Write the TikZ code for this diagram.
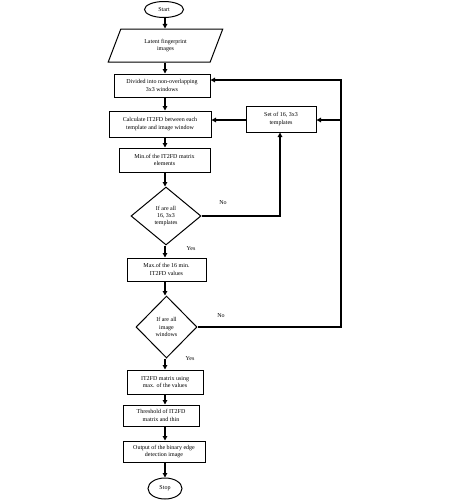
\documentclass[tikz,border=0pt]{standalone}
\usepackage{fontspec}
\setmainfont{Liberation Serif}
\usetikzlibrary{shapes.geometric,arrows.meta}
\begin{document}
\begin{tikzpicture}[x=1pt,y=-1pt,
  every node/.style={font=\fontsize{6}{7.3}\selectfont, align=center, inner sep=0pt},
  procbox/.style={draw, line width=1pt, rectangle},
  termin/.style={draw, line width=1pt, ellipse},
  decis/.style={draw, line width=1pt, diamond},
  iobox/.style={draw, line width=1pt, trapezium, trapezium left angle=65, trapezium right angle=115, trapezium stretches=true},
  arr/.style={line width=1.2pt, -{Triangle[length=4.5pt,width=4.5pt]}},
  ln/.style={line width=1.2pt},
  lbl/.style={font=\fontsize{6}{7.3}\selectfont}]
\useasboundingbox (0,0) rectangle (474,501);
\node[termin, minimum width=39pt, minimum height=16pt] (start) at (164,9.5) {Start};
\node[iobox, minimum width=115pt, minimum height=33pt] (input) at (165.5,45.5) {Latent fingerprint\\images};
\node[procbox, minimum width=96pt, minimum height=23pt] (b1) at (162,85.5) {Divided into non-overlapping\\3x3 windows};
\node[procbox, minimum width=102pt, minimum height=26pt] (b2) at (160,124) {Calculate IT2FD between each\\template and image window};
\node[procbox, minimum width=91pt, minimum height=24pt] (b3) at (164.5,160) {Min.of the IT2FD matrix\\elements};
\node[procbox, minimum width=70pt, minimum height=26pt] (tmpl) at (281,119) {Set of 16, 3x3\\templates};
\node[decis, minimum width=70pt, minimum height=58pt] (d1) at (166,216) {If are all\\16, 3x3\\templates};
\node[procbox, minimum width=79pt, minimum height=23pt] (b4) at (166.5,269.5) {Max.of the 16 min.\\IT2FD values};
\node[decis, minimum width=61pt, minimum height=62pt] (d2) at (166.5,327) {If are all\\image\\windows};
\node[procbox, minimum width=76pt, minimum height=24pt] (b5) at (165,382) {IT2FD matrix using\\max. of the values};
\node[procbox, minimum width=76pt, minimum height=21pt] (b6) at (161,415.5) {Threshold of IT2FD\\matrix and thin};
\node[procbox, minimum width=82pt, minimum height=21pt] (b7) at (164,451.5) {Output of the binary edge\\detection image};
\node[termin, minimum width=34pt, minimum height=21pt] (stop) at (165,488.5) {Stop};

\node[lbl] (no1) at (223,203) {No};
\node[lbl] (yes1) at (191,249) {Yes};
\node[lbl] (no2) at (221,316) {No};
\node[lbl] (yes2) at (190,359) {Yes};

\coordinate (ax) at (165,0);
\coordinate (rc1) at (341,80);
\coordinate (rc2) at (341,327);
\coordinate (rc3) at (341,120);
\coordinate (dc1) at (280,216);

\draw[arr] (start.south -| ax) -- (input.north -| ax);
\draw[arr] (input.south -| ax) -- (b1.north -| ax);
\draw[arr] (b1.south -| ax) -- (b2.north -| ax);
\draw[arr] (b2.south -| ax) -- (b3.north -| ax);
\draw[arr] (b3.south -| ax) -- (d1.north -| ax);
\draw[arr] (d1.south -| ax) -- (b4.north -| ax);
\draw[arr] (b4.south -| ax) -- (d2.north -| ax);
\draw[arr] (d2.south -| ax) -- (b5.north -| ax);
\draw[arr] (b5.south -| ax) -- (b6.north -| ax);
\draw[arr] (b6.south -| ax) -- (b7.north -| ax);
\draw[arr] (b7.south -| ax) -- (stop.north -| ax);

\draw[arr] (d1.east) -- (dc1) -- (tmpl.south -| dc1);
\draw[arr] (tmpl.west |- rc3) -- (b2.east |- rc3);
\draw[arr] (d2.east) -- (rc2) -- (rc1) -- (b1.east |- rc1);
\draw[arr] (rc3) -- (tmpl.east |- rc3);
\end{tikzpicture}
\end{document}
